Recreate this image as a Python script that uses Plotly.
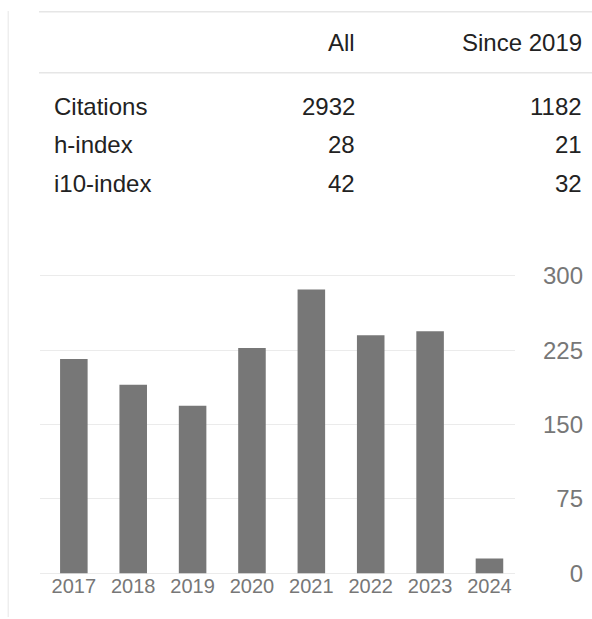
import plotly.graph_objects as go

# ---- data ----
years = ["2017", "2018", "2019", "2020", "2021", "2022", "2023", "2024"]
citations_per_year = [216, 190, 169, 227, 286, 240, 244, 15]
y_ticks = [0, 75, 150, 225, 300]

table_header = ["", "All", "Since 2019"]
row_labels = ["Citations", "h-index", "i10-index"]
all_values = ["2932", "28", "42"]
since_values = ["1182", "21", "32"]

# ---- geometry (pixels) ----
W, H = 592, 619
L, R, T, B = 40, 6, 250, 20
PW, PH = W - L - R, H - T - B
GRID_LEFT, GRID_RIGHT = 40, 515
Y0_PX, Y300_PX = 573.3, 275.7
Y_PAD = 2.0  # extra units so edge gridlines are drawn


def px(x):
    return (x - L) / PW


def py(y):
    return (H - B - y) / PH


units_per_px = 300 / (Y0_PX - Y300_PX)
pad_px = Y_PAD / units_per_px
y1_range = [-Y_PAD, 300 + Y_PAD]
y1_domain = [py(Y0_PX + pad_px), py(Y300_PX - pad_px)]
y2_range = [0 - (H - B - Y0_PX) * units_per_px, 300 + (Y300_PX - T) * units_per_px]

FONT = "Liberation Sans, Arial, Helvetica, sans-serif"

fig = go.Figure()
fig.add_trace(go.Bar(
    x=years, y=citations_per_year, xaxis="x", yaxis="y",
    marker=dict(color="#777777", line=dict(width=0)),
    hoverinfo="x+y", showlegend=False,
))
# invisible trace carrying the right-hand labelled axis
fig.add_trace(go.Scatter(
    x=years, y=citations_per_year, xaxis="x2", yaxis="y2", mode="markers",
    marker=dict(opacity=0), hoverinfo="skip", showlegend=False,
))

fig.update_layout(
    width=W, height=H,
    margin=dict(l=L, r=R, t=T, b=B, pad=0),
    paper_bgcolor="white", plot_bgcolor="rgba(0,0,0,0)",
    font=dict(family=FONT, color="#222222"),
    bargap=0.536,
    xaxis=dict(
        domain=[px(GRID_LEFT), px(GRID_RIGHT)], anchor="y",
        type="category", range=[-0.57, 7.43],
        showgrid=False, zeroline=False, showline=False, ticks="",
        tickfont=dict(size=20, color="#777777"), ticklabelstandoff=-3,
        fixedrange=True,
    ),
    yaxis=dict(
        domain=y1_domain, anchor="x",
        range=y1_range, tickvals=y_ticks, showticklabels=False,
        showgrid=True, gridcolor="#ebebeb", gridwidth=1.3,
        zeroline=False, showline=False, ticks="", fixedrange=True,
    ),
    xaxis2=dict(
        domain=[0, 1], anchor="y2", visible=False, fixedrange=True,
        type="category", range=[-0.57, 7.43],
    ),
    yaxis2=dict(
        domain=[0, 1], anchor="x2", side="right",
        range=y2_range, tickvals=y_ticks, ticklabelposition="inside",
        showgrid=False, zeroline=False, showline=False, ticks="",
        tickfont=dict(size=24, color="#777777"), fixedrange=True,
    ),
)

annotations = []
annotations.append(dict(text=table_header[1], x=px(357), y=py(42),
                        xanchor="right", yanchor="middle"))
annotations.append(dict(text=table_header[2], x=px(584), y=py(42),
                        xanchor="right", yanchor="middle"))
row_y = [107, 145, 183]
for lbl, a, s, yy in zip(row_labels, all_values, since_values, row_y):
    annotations.append(dict(text=lbl, x=px(52), y=py(yy), xanchor="left", yanchor="middle"))
    annotations.append(dict(text=a, x=px(357), y=py(yy), xanchor="right", yanchor="middle"))
    annotations.append(dict(text=s, x=px(584), y=py(yy), xanchor="right", yanchor="middle"))
for an in annotations:
    an.update(xref="paper", yref="paper", showarrow=False,
              font=dict(size=24, color="#222222", family=FONT))
fig.update_layout(annotations=annotations)

shapes = [
    dict(type="line", xref="paper", yref="paper", x0=px(39), x1=px(592), y0=py(11.7), y1=py(11.7),
         line=dict(color="#e6e6e6", width=1.5)),
    dict(type="line", xref="paper", yref="paper", x0=px(39), x1=px(592), y0=py(72.7), y1=py(72.7),
         line=dict(color="#e6e6e6", width=1.5)),
    dict(type="line", xref="paper", yref="paper", x0=px(8.3), x1=px(8.3), y0=py(11), y1=py(617),
         line=dict(color="#eeeeee", width=1.5)),
]
fig.update_layout(shapes=shapes)

fig.write_html("out.html", config={"displayModeBar": False},
               post_script="document.body.style.margin='0';document.body.style.overflow='hidden';")
